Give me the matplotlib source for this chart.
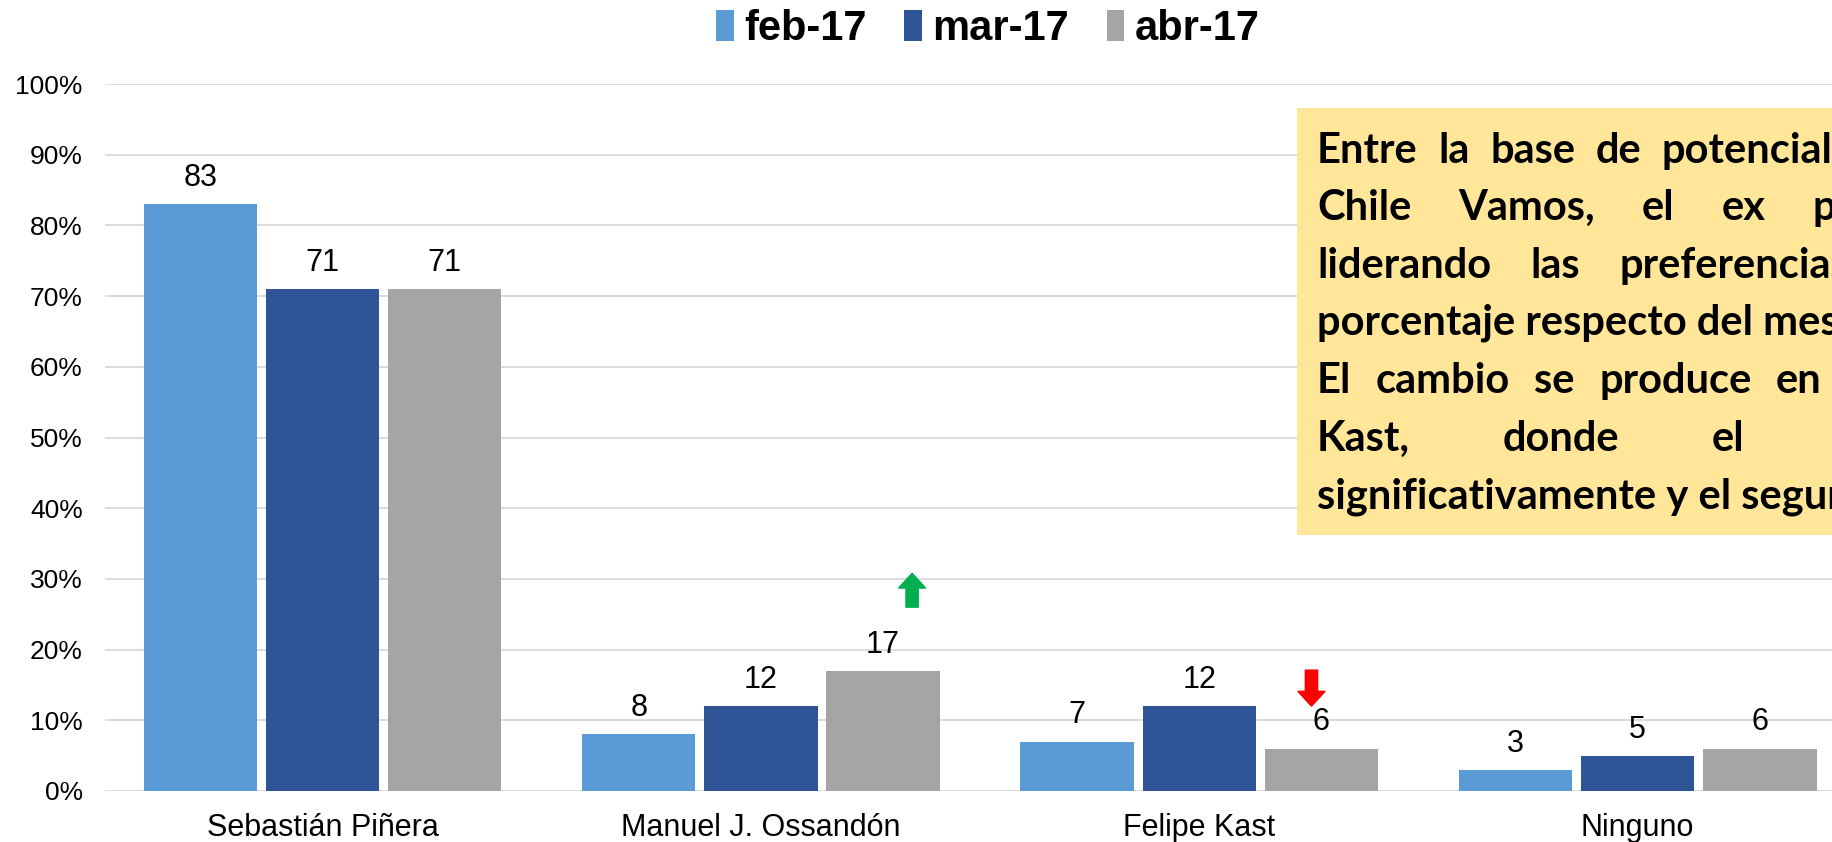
import numpy as np
import matplotlib
matplotlib.use("Agg")
import matplotlib.pyplot as plt
from matplotlib.patches import Patch, Rectangle

candidates = ["Sebastián Piñera", "Manuel J. Ossandón", "Felipe Kast", "Ninguno"]
series = ["feb-17", "mar-17", "abr-17"]
feb = [83, 8, 7, 3]
mar = [71, 12, 12, 5]
abr = [71, 17, 6, 6]
colors = ["#5B9BD5", "#2F5597", "#A5A5A5"]

# note box text: words of each line, and where the last word of a justified line starts (px)
note_lines = [
    (["Entre", "la", "base", "de", "potenciales"], 1662),
    (["Chile", "Vamos,", "el", "ex", "presidente"], 1813),
    (["liderando", "las", "preferencias"], 1620),
    (["porcentaje respecto del mes"], None),
    (["El", "cambio", "se", "produce", "en"], 1776),
    (["Kast,", "donde", "el"], 1712),
    (["significativamente y el segundo"], None),
]

W, H = 1833, 842
fig = plt.figure(figsize=(W / 100, H / 100), dpi=100)
ax = fig.add_axes([105 / W, 51 / H, 1 - 105 / W, 707 / H])

x = np.arange(len(candidates))
pitch = 0.2787
width = 0.2587
for i, (vals, col) in enumerate(zip([feb, mar, abr], colors)):
    bars = ax.bar(x + (i - 1) * pitch, vals, width, color=col, zorder=3)
    for b, v in zip(bars, vals):
        ax.annotate(str(v), (b.get_x() + b.get_width() / 2, v), xytext=(0, 8),
                    textcoords="offset points", ha="center", va="bottom",
                    fontsize=22, family="Liberation Sans", zorder=4)

ax.set_xlim(-0.496, (W - 105) / 438.4 - 0.496)
ax.set_ylim(0, 100)
ax.set_yticks(np.arange(0, 101, 10))
ax.set_yticklabels([f"{t}%" for t in range(0, 101, 10)], family="Liberation Sans", fontsize=19)
ax.set_xticks(x)
ax.set_xticklabels(candidates, family="Liberation Sans", fontsize=22)
ax.tick_params(axis="y", length=0, pad=16)
ax.tick_params(axis="x", length=0, pad=16)
ax.grid(axis="y", color="#D9D9D9", linewidth=1.3, zorder=0)
for s in ax.spines.values():
    s.set_visible(False)

# arrows
ax.arrow(1.345, 26.0, 0, 4.8, width=0.028, head_width=0.062, head_length=2.1,
         length_includes_head=True, color="#00B050", zorder=5)
ax.arrow(2.256, 17.1, 0, -5.1, width=0.028, head_width=0.062, head_length=2.1,
         length_includes_head=True, color="#FF0000", zorder=5)

# legend
handles = [Patch(facecolor=c, edgecolor="none") for c in colors]
fig.legend(handles, series, loc="center", bbox_to_anchor=(988 / W, 1 - 29 / H), ncol=3,
           frameon=False, prop=dict(family="Liberation Sans", weight="bold", size=30),
           handlelength=0.42, handleheight=0.75, handletextpad=0.25, columnspacing=0.9)

# note box
fig.patches.append(Rectangle((1297 / W, 1 - 535 / H), 1, (535 - 108) / H,
                             transform=fig.transFigure, facecolor="#FFE699",
                             edgecolor="none", zorder=6))
renderer = fig.canvas.get_renderer()
left = 1317
baselines = [163, 220, 278, 335, 393, 451, 508]
for (words, last_x), yb in zip(note_lines, baselines):
    txts = [fig.text(0, 1 - yb / H, w, ha="left", va="baseline", fontsize=30,
                     family="Lato", weight="bold", zorder=7) for w in words]
    widths = [t.get_window_extent(renderer).width for t in txts]
    gap = 0 if last_x is None else (last_x - left - sum(widths[:-1])) / (len(words) - 1)
    xp = left
    for t, wd in zip(txts, widths):
        t.set_x(xp / W)
        xp += wd + gap

fig.savefig("out.png", dpi=100)
